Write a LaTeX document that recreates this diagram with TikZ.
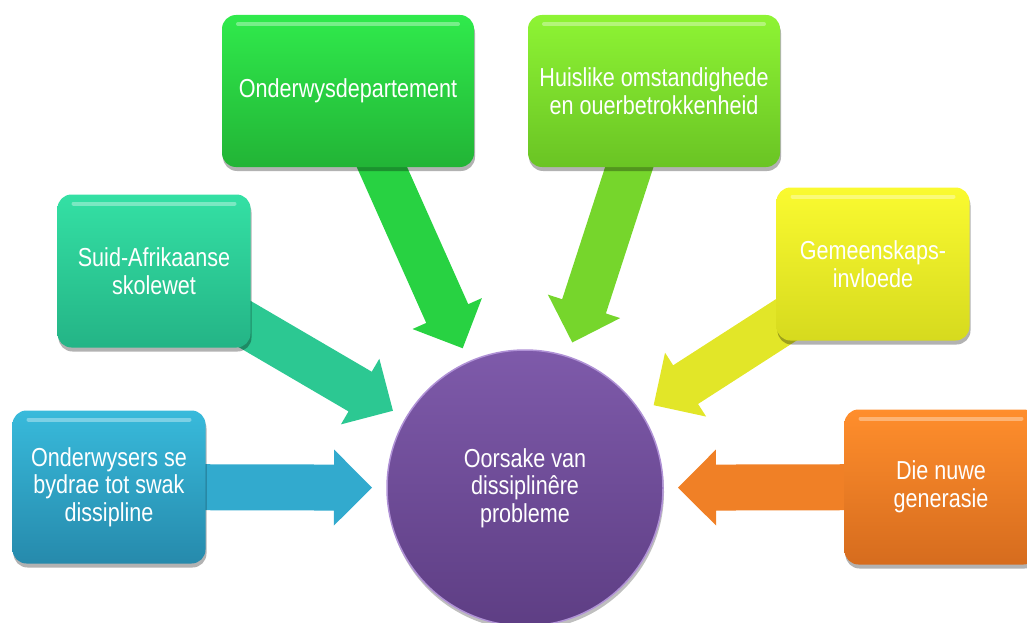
\documentclass[tikz,border=0pt]{standalone}
\usepackage{fontspec}
\setmainfont{Liberation Sans}
\newfontfamily\boksfont[FakeStretch=0.83]{Liberation Sans}
\usetikzlibrary{calc,shadows,backgrounds}

\definecolor{blouBo}{RGB}{56,186,219}
\definecolor{blouOn}{RGB}{38,138,172}
\definecolor{blouPyl}{RGB}{50,170,206}
\definecolor{tealBo}{RGB}{52,224,164}
\definecolor{tealOn}{RGB}{36,180,134}
\definecolor{tealPyl}{RGB}{44,200,146}
\definecolor{groenBo}{RGB}{48,234,76}
\definecolor{groenOn}{RGB}{34,180,54}
\definecolor{groenPyl}{RGB}{40,210,66}
\definecolor{limBo}{RGB}{142,244,52}
\definecolor{limOn}{RGB}{106,196,36}
\definecolor{limPyl}{RGB}{118,214,44}
\definecolor{geelBo}{RGB}{250,250,48}
\definecolor{geelOn}{RGB}{214,218,30}
\definecolor{geelPyl}{RGB}{226,230,40}
\definecolor{oranjeBo}{RGB}{255,142,44}
\definecolor{oranjeOn}{RGB}{214,108,30}
\definecolor{oranjePyl}{RGB}{240,128,38}
\definecolor{persBo}{RGB}{126,90,170}
\definecolor{persOn}{RGB}{94,62,132}
\definecolor{persRand}{RGB}{176,146,214}

% block arrow: from, tip, colour
\newcommand{\blokpyl}[3]{%
  \coordinate (hb) at ($(#2)!38pt!(#1)$);
  \fill[#3] ($(#1)!23pt!90:(#2)$) -- ($(hb)!23pt!-90:(#1)$) -- ($(hb)!38pt!-90:(#1)$) -- (#2)
    -- ($(hb)!38pt!90:(#1)$) -- ($(hb)!23pt!90:(#1)$) -- ($(#1)!23pt!-90:(#2)$) -- cycle;}

\begin{document}
\begin{tikzpicture}[x=1pt,y=-1pt,
  glans/.style={path picture={\draw[white,opacity=.35,line width=4pt,line cap=round]
     ([xshift=16pt,yshift=-9pt]path picture bounding box.north west) --
     ([xshift=-16pt,yshift=-9pt]path picture bounding box.north east);}},
  blok/.style={rounded corners=14pt,minimum width=193pt,minimum height=153pt,inner sep=4pt,
     text=white,align=center,font=\boksfont\fontsize{26}{27.5}\selectfont,
     drop shadow={shadow xshift=1pt,shadow yshift=-4pt,opacity=.3,fill=black},glans},
  wyd/.style={minimum width=252pt,minimum height=152pt}]
  \useasboundingbox (0,0) rectangle (1027,623);
  \clip (0,0) rectangle (1027,623);
  \node[circle,minimum size=276pt,top color=persBo,bottom color=persOn,draw=persRand,line width=1.5pt,
     text=white,align=center,font=\boksfont\fontsize{26}{27.5}\selectfont,
     drop shadow={shadow xshift=1pt,shadow yshift=-4pt,opacity=.25,fill=black}]
     (kern) at (525,488) {Oorsake van\\dissiplinêre\\probleme};
  \node[blok,top color=blouBo,bottom color=blouOn]     (onderwysers) at (109,487) {Onderwysers se\\bydrae tot swak\\dissipline};
  \node[blok,top color=tealBo,bottom color=tealOn]     (skolewet)    at (154,271) {Suid-Afrikaanse\\skolewet};
  \node[blok,wyd,top color=groenBo,bottom color=groenOn] (departement) at (348,91) {Onderwysdepartement};
  \node[blok,wyd,top color=limBo,bottom color=limOn]   (huislik)     at (654,91) {Huislike omstandighede\\en ouerbetrokkenheid};
  \node[blok,top color=geelBo,bottom color=geelOn]     (gemeenskap)  at (873,264) {Gemeenskaps-\\invloede};
  \node[blok,minimum height=155pt,top color=oranjeBo,bottom color=oranjeOn] (generasie) at (941,487) {Die nuwe\\generasie};
  \foreach \b in {onderwysers,skolewet,departement,huislik,gemeenskap,generasie}
    \coordinate (punt-\b) at ($(kern.center)!153pt!(\b.center)$);
  \begin{pgfonlayer}{background}
    \blokpyl{onderwysers.center}{punt-onderwysers}{blouPyl}
    \blokpyl{skolewet.center}{punt-skolewet}{tealPyl}
    \blokpyl{departement.center}{punt-departement}{groenPyl}
    \blokpyl{huislik.center}{punt-huislik}{limPyl}
    \blokpyl{gemeenskap.center}{punt-gemeenskap}{geelPyl}
    \blokpyl{generasie.center}{punt-generasie}{oranjePyl}
  \end{pgfonlayer}
\end{tikzpicture}
\end{document}
